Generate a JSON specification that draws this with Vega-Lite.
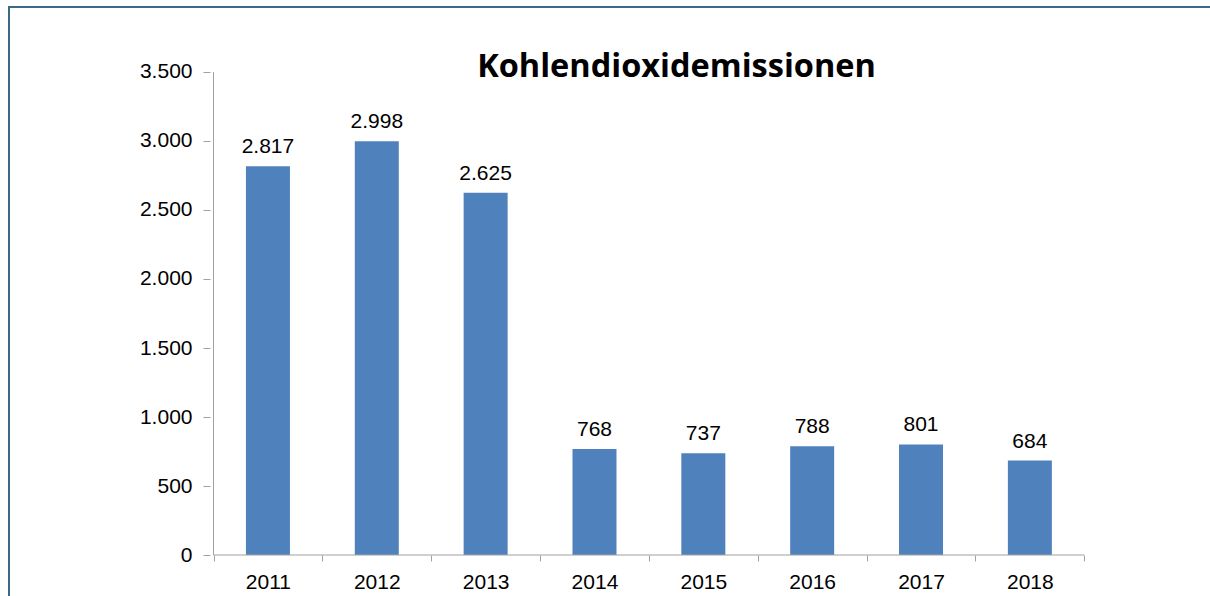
{
  "$schema": "https://vega.github.io/schema/vega-lite/v6.json",
  "autosize": "none",
  "padding": {"left": 9, "top": 7, "right": 0, "bottom": 0},
  "width": 1335,
  "height": 600,
  "background": "white",
  "config": {
    "locale": {"number": {"decimal": ",", "thousands": ".", "grouping": [3], "currency": ["", " €"]}},
    "view": {"stroke": "#3b6a84", "strokeWidth": 2},
    "font": "Liberation Sans"
  },
  "title": {
    "text": "Kohlendioxidemissionen",
    "font": "Open Sans",
    "fontSize": 32.5,
    "fontWeight": "bold",
    "color": "#000000",
    "anchor": "middle",
    "frame": "group",
    "baseline": "alphabetic",
    "offset": -102
  },
  "data": {
    "values": [
      {"year": 2011, "value": 2817},
      {"year": 2012, "value": 2998},
      {"year": 2013, "value": 2625},
      {"year": 2014, "value": 768},
      {"year": 2015, "value": 737},
      {"year": 2016, "value": 788},
      {"year": 2017, "value": 801},
      {"year": 2018, "value": 684}
    ]
  },
  "layer": [
    {
      "mark": {"type": "bar", "size": 44, "color": "#4f81bd"},
      "encoding": {
        "x": {
          "field": "year",
          "type": "quantitative",
          "scale": {"domain": [2008.667, 2020.84], "nice": false, "zero": false},
          "axis": {
            "values": [2010.5, 2011, 2011.5, 2012, 2012.5, 2013, 2013.5, 2014, 2014.5, 2015, 2015.5, 2016, 2016.5, 2017, 2017.5, 2018, 2018.5],
            "labelExpr": "datum.value % 1 === 0 ? '' + datum.value : ''",
            "tickSize": 6,
            "tickColor": {"condition": {"test": "datum.value % 1 !== 0", "value": "#a0a0a0"}, "value": "transparent"},
            "domain": false,
            "grid": false,
            "offset": -52,
            "labelPadding": 10,
            "labelFontSize": 21,
            "labelColor": "#000000",
            "labelOverlap": false,
            "labelFlush": false,
            "title": null
          }
        },
        "y": {
          "field": "value",
          "type": "quantitative",
          "scale": {"domain": [-376.8, 3971], "nice": false, "zero": false},
          "axis": {
            "values": [0, 500, 1000, 1500, 2000, 2500, 3000, 3500],
            "labelExpr": "format(datum.value, ',.0f')",
            "tickSize": 7,
            "tickColor": "#a0a0a0",
            "domain": false,
            "grid": false,
            "offset": -201,
            "labelPadding": 11,
            "labelFontSize": 21,
            "labelColor": "#000000",
            "labelFlush": false,
            "labelOverlap": false,
            "title": null
          }
        }
      }
    },
    {
      "mark": {"type": "text", "fontSize": 21, "baseline": "alphabetic", "dy": -13, "color": "#000000"},
      "encoding": {
        "x": {"field": "year", "type": "quantitative"},
        "y": {"field": "value", "type": "quantitative"},
        "text": {"field": "value", "type": "quantitative", "format": ",.0f"}
      }
    },
    {
      "data": {"values": [{}]},
      "mark": {"type": "rule", "color": "#a0a0a0", "strokeWidth": 1},
      "encoding": {
        "x": {"datum": 2010.5, "type": "quantitative"},
        "y": {"datum": 0, "type": "quantitative"},
        "y2": {"datum": 3500}
      }
    },
    {
      "data": {"values": [{}]},
      "mark": {"type": "rule", "color": "#a0a0a0", "strokeWidth": 1},
      "encoding": {
        "y": {"datum": 0, "type": "quantitative"},
        "x": {"datum": 2010.5, "type": "quantitative"},
        "x2": {"datum": 2018.5}
      }
    }
  ]
}
